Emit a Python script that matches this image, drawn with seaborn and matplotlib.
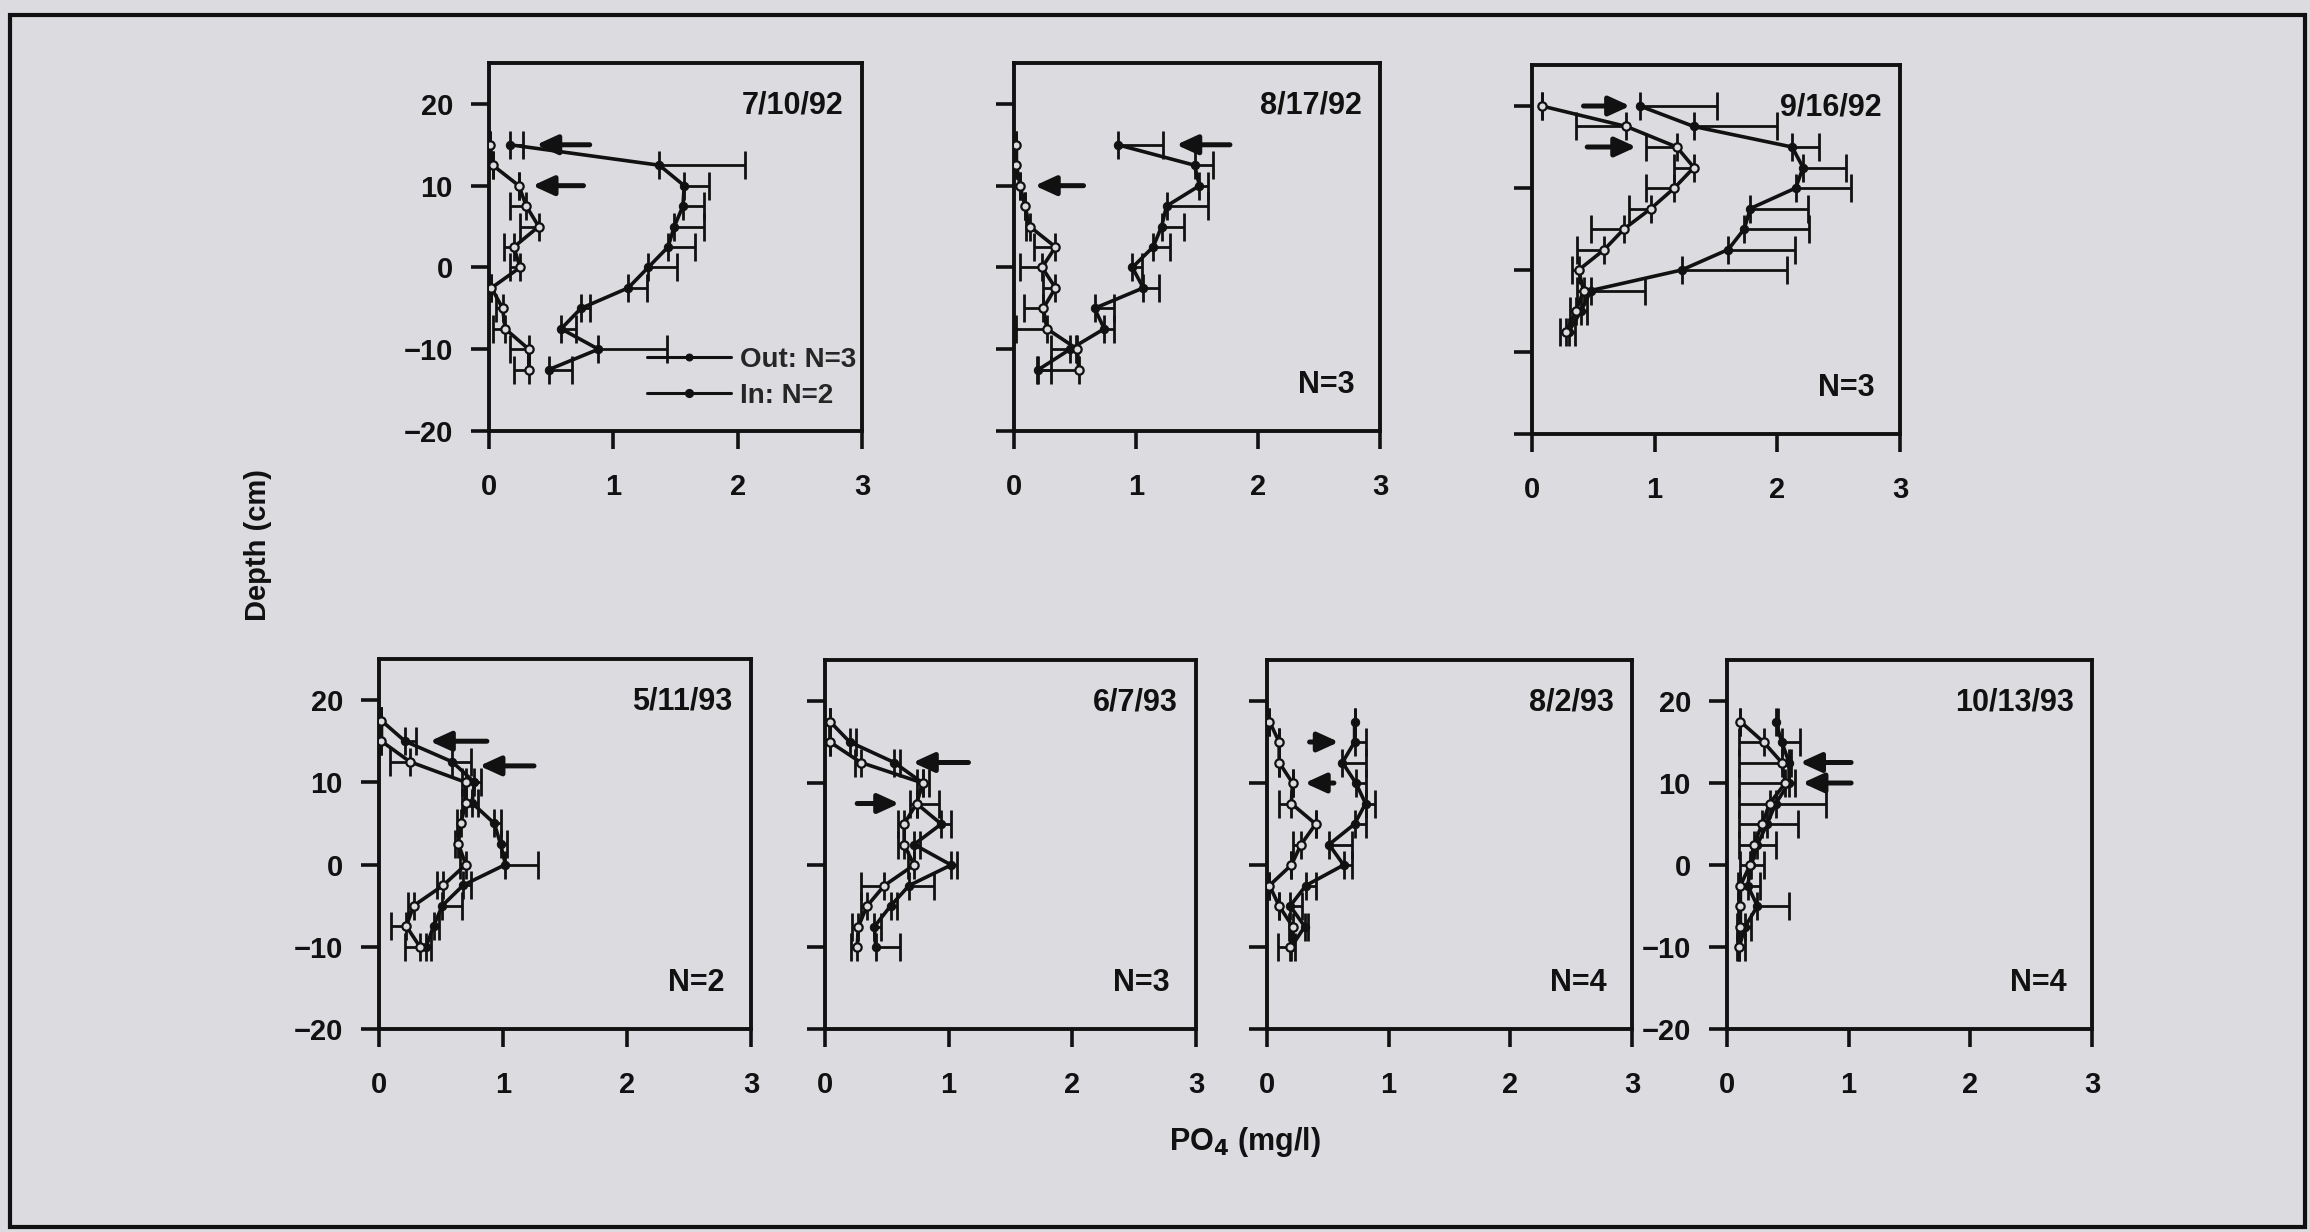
import matplotlib
matplotlib.use("Agg")
import matplotlib.pyplot as plt
import seaborn as sns
import pandas as pd
from matplotlib.patches import Rectangle

# ---------------- data ----------------
dates = ["7/10/92", "8/17/92", "9/16/92", "5/11/93", "6/7/93", "8/2/93", "10/13/93"]
n_labels = [None, "N=3", "N=3", "N=2", "N=3", "N=4", "N=4"]

depth_p1 = [15, 12.5, 10, 7.5, 5, 2.5, 0, -2.5, -5, -7.5, -10, -12.5]
out_p1 = [0.17, 1.37, 1.57, 1.56, 1.49, 1.44, 1.28, 1.12, 0.74, 0.58, 0.88, 0.48]
out_err_p1 = [0.10, 0.69, 0.20, 0.17, 0.24, 0.22, 0.23, 0.15, 0.07, 0.12, 0.55, 0.19]
in_p1 = [0.01, 0.03, 0.24, 0.30, 0.40, 0.20, 0.25, 0.02, 0.11, 0.13, 0.32, 0.32]
in_err_p1 = [0, 0, 0, 0.13, 0.15, 0.08, 0.08, 0, 0.05, 0.10, 0.15, 0.12]

depth_p2 = [15, 12.5, 10, 7.5, 5, 2.5, 0, -2.5, -5, -7.5, -10, -12.5]
out_p2 = [0.85, 1.48, 1.52, 1.25, 1.21, 1.14, 0.97, 1.06, 0.66, 0.74, 0.46, 0.20]
out_err_p2 = [0.37, 0.15, 0.07, 0.34, 0.18, 0.14, 0.08, 0.13, 0.16, 0.08, 0.05, 0.10]
in_p2 = [0.02, 0.02, 0.05, 0.09, 0.13, 0.34, 0.23, 0.34, 0.24, 0.27, 0.52, 0.53]
in_err_p2 = [0, 0, 0, 0, 0.03, 0.18, 0.18, 0.10, 0.16, 0.25, 0.22, 0.34]

depth_p3 = [20, 17.5, 15, 12.5, 10, 7.5, 5, 2.5, 0, -2.5, -5, -7.5]
out_p3 = [0.88, 1.32, 2.12, 2.21, 2.15, 1.78, 1.73, 1.60, 1.22, 0.48, 0.40, 0.30]
out_err_p3 = [0.63, 0.68, 0.22, 0.35, 0.45, 0.47, 0.53, 0.54, 0.86, 0.44, 0.05, 0.05]
in_p3 = [0.08, 0.77, 1.18, 1.32, 1.16, 0.97, 0.75, 0.59, 0.38, 0.42, 0.36, 0.28]
in_err_p3 = [0, 0.41, 0.25, 0.16, 0.23, 0.18, 0.27, 0.22, 0.05, 0.05, 0.05, 0.05]

depth_p4 = [17.5, 15, 12.5, 10, 7.5, 5, 2.5, 0, -2.5, -5, -7.5, -10]
out_p4 = [0.02, 0.21, 0.59, 0.77, 0.75, 0.93, 0.98, 1.02, 0.68, 0.51, 0.44, 0.38]
out_err_p4 = [0, 0.09, 0.15, 0.05, 0.05, 0.05, 0.05, 0.26, 0.06, 0.16, 0.04, 0.04]
in_p4 = [0.02, 0.02, 0.25, 0.70, 0.70, 0.66, 0.64, 0.70, 0.52, 0.28, 0.22, 0.33]
in_err_p4 = [0, 0, 0.16, 0.03, 0.03, 0.03, 0.03, 0.05, 0.05, 0.05, 0.12, 0.12]

depth_p5 = [17.5, 15, 12.5, 10, 7.5, 5, 2.5, 0, -2.5, -5, -7.5, -10]
out_p5 = [0.04, 0.20, 0.56, 0.79, 0.74, 0.94, 0.72, 1.02, 0.68, 0.53, 0.40, 0.41]
out_err_p5 = [0, 0.05, 0.05, 0.05, 0.18, 0.08, 0.05, 0.05, 0.20, 0.05, 0.05, 0.20]
in_p5 = [0.04, 0.04, 0.29, 0.79, 0.74, 0.64, 0.64, 0.72, 0.48, 0.34, 0.27, 0.26]
in_err_p5 = [0, 0, 0.05, 0.05, 0.05, 0.05, 0.05, 0.05, 0.19, 0.05, 0.05, 0.05]

depth_p6 = [17.5, 15, 12.5, 10, 7.5, 5, 2.5, 0, -2.5, -5, -7.5, -10]
out_p6 = [0.72, 0.72, 0.62, 0.73, 0.81, 0.72, 0.51, 0.63, 0.32, 0.19, 0.31, 0.20]
out_err_p6 = [0, 0.09, 0.19, 0.08, 0.08, 0.09, 0.19, 0.07, 0.08, 0.10, 0.03, 0.03]
in_p6 = [0.02, 0.10, 0.10, 0.21, 0.20, 0.40, 0.28, 0.20, 0.02, 0.10, 0.21, 0.19]
in_err_p6 = [0, 0, 0, 0, 0.10, 0, 0.07, 0, 0, 0, 0.03, 0.10]

depth_p7 = [17.5, 15, 12.5, 10, 7.5, 5, 2.5, 0, -2.5, -5, -7.5, -10]
out_p7 = [0.40, 0.45, 0.51, 0.51, 0.40, 0.33, 0.25, 0.20, 0.17, 0.25, 0.15, 0.10]
out_err_p7 = [0.02, 0.15, 0.02, 0.05, 0.41, 0.25, 0.15, 0.10, 0.10, 0.26, 0.05, 0.05]
in_p7 = [0.11, 0.30, 0.45, 0.48, 0.35, 0.29, 0.22, 0.19, 0.11, 0.11, 0.11, 0.10]
in_err_p7 = [0, 0.20, 0.35, 0.38, 0.25, 0.19, 0.12, 0.08, 0.02, 0.02, 0.03, 0.02]

# arrows: (depth, tail x, head x)
arrows_p1 = [(15, 0.81, 0.38), (10, 0.76, 0.35)]
arrows_p2 = [(15, 1.77, 1.33), (10, 0.57, 0.17)]
arrows_p3 = [(20, 0.42, 0.80), (15, 0.45, 0.85)]
arrows_p4 = [(15, 0.87, 0.41), (12, 1.25, 0.81)]
arrows_p5 = [(12.5, 1.16, 0.71), (7.5, 0.26, 0.60)]
arrows_p6 = [(15, 0.35, 0.59), (10, 0.55, 0.31)]
arrows_p7 = [(12.5, 1.02, 0.60), (10, 1.02, 0.62)]

panels = [
    (depth_p1, out_p1, out_err_p1, in_p1, in_err_p1, arrows_p1),
    (depth_p2, out_p2, out_err_p2, in_p2, in_err_p2, arrows_p2),
    (depth_p3, out_p3, out_err_p3, in_p3, in_err_p3, arrows_p3),
    (depth_p4, out_p4, out_err_p4, in_p4, in_err_p4, arrows_p4),
    (depth_p5, out_p5, out_err_p5, in_p5, in_err_p5, arrows_p5),
    (depth_p6, out_p6, out_err_p6, in_p6, in_err_p6, arrows_p6),
    (depth_p7, out_p7, out_err_p7, in_p7, in_err_p7, arrows_p7),
]

# ---------------- style ----------------
BG = "#dcdce0"
INK = "#111111"
sns.set_theme(style="ticks")
plt.rcParams["font.family"] = ["Liberation Sans Narrow", "Liberation Sans", "DejaVu Sans"]
plt.rcParams["font.weight"] = "bold"
plt.rcParams["axes.linewidth"] = 2.8
plt.rcParams["mathtext.default"] = "bf"

W, H = 2310, 1232
fig = plt.figure(figsize=(W / 100, H / 100), dpi=100, facecolor=BG)

# frame around the figure
fig.patches.append(Rectangle((10 / W, 1 - 1227 / H), 2295 / W, 1212 / H,
                             transform=fig.transFigure, fill=False,
                             edgecolor=INK, linewidth=3, zorder=0))

boxes = [
    (489, 862, 63, 431), (1014, 1380, 63, 431), (1532, 1900, 65, 434),
    (379, 751, 659, 1029), (825, 1196, 660, 1029), (1267, 1632, 660, 1029),
    (1727, 2092, 660, 1029),
]
show_ylabels = [True, False, False, True, False, False, True]

for i, (box, pdata) in enumerate(zip(boxes, panels)):
    l, r, t, b = box
    ax = fig.add_axes([l / W, 1 - b / H, (r - l) / W, (b - t) / H])
    ax.set_facecolor("none")
    depth, xo, eo, xi, ei, arr = pdata

    # one-sided error bars: Out to the right, In to the left
    ax.errorbar(xo, depth, xerr=[[0] * len(eo), eo], fmt="none", ecolor=INK,
                elinewidth=2.0, capsize=10, capthick=2.0, zorder=2)
    ax.errorbar(xi, depth, xerr=[ei, [0] * len(ei)], fmt="none", ecolor=INK,
                elinewidth=2.0, capsize=10, capthick=2.0, zorder=2)

    df_out = pd.DataFrame({"po4": xo, "depth": depth})
    df_in = pd.DataFrame({"po4": xi, "depth": depth})
    sns.lineplot(data=df_out, x="po4", y="depth", sort=False, estimator=None, ax=ax,
                 color=INK, linewidth=2.6, marker="o", markersize=6,
                 markeredgecolor=INK, markerfacecolor=INK,
                 label="Out: N=3", zorder=3)
    sns.lineplot(data=df_in, x="po4", y="depth", sort=False, estimator=None, ax=ax,
                 color=INK, linewidth=2.6, marker="o", markersize=6,
                 markeredgecolor=INK, markerfacecolor=BG, markeredgewidth=1.6,
                 label="In: N=2", zorder=3)

    for (d, xt, xh) in arr:
        ax.annotate("", xy=(xh, d), xytext=(xt, d),
                    arrowprops=dict(arrowstyle="-|>,head_length=0.7,head_width=0.32",
                                    mutation_scale=18, lw=3.6, color=INK,
                                    shrinkA=0, shrinkB=0),
                    zorder=4)

    ax.set_xlim(0, 3)
    ax.set_ylim(-20, 25)
    ax.set_xticks([0, 1, 2, 3])
    ax.set_yticks([-20, -10, 0, 10, 20])
    ax.set_xlabel("")
    ax.set_ylabel("")
    ax.tick_params(axis="both", direction="out", length=13, width=2.6,
                   labelsize=21, color=INK, labelcolor=INK)
    ax.tick_params(axis="x", pad=17)
    ax.tick_params(axis="y", pad=13)
    if not show_ylabels[i]:
        ax.set_yticklabels([])
    for lab in ax.get_xticklabels() + ax.get_yticklabels():
        lab.set_fontweight("bold")
    for sp in ax.spines.values():
        sp.set_color(INK)
        sp.set_visible(True)

    ax.text(0.95, 0.885, dates[i], transform=ax.transAxes, ha="right", va="center",
            fontsize=22, fontweight="bold", color=INK)
    if n_labels[i]:
        ax.text(0.93, 0.125, n_labels[i], transform=ax.transAxes, ha="right",
                va="center", fontsize=22, fontweight="bold", color=INK)

    if i == 0:
        leg = ax.legend(loc="lower right", bbox_to_anchor=(1.03, 0.015), frameon=False,
                        fontsize=20, handlelength=3.0, handletextpad=0.35,
                        labelspacing=0.35, borderaxespad=0.2)
        for txt in leg.get_texts():
            txt.set_fontweight("bold")
        for h in leg.legend_handles:
            h.set_markerfacecolor(INK)
            h.set_markersize(5)
            h.set_linewidth(2.2)
    else:
        lg = ax.get_legend()
        if lg is not None:
            lg.remove()

fig.text(258 / W, 1 - 545 / H, "Depth (cm)", rotation=90, ha="center", va="center",
         fontsize=21, fontweight="bold", color=INK)
fig.text(1245 / W, 1 - 1142 / H, r"PO$_4$ (mg/l)", ha="center", va="center",
         fontsize=22, fontweight="bold", color=INK)

fig.savefig("out.png", dpi=100, facecolor=BG)
